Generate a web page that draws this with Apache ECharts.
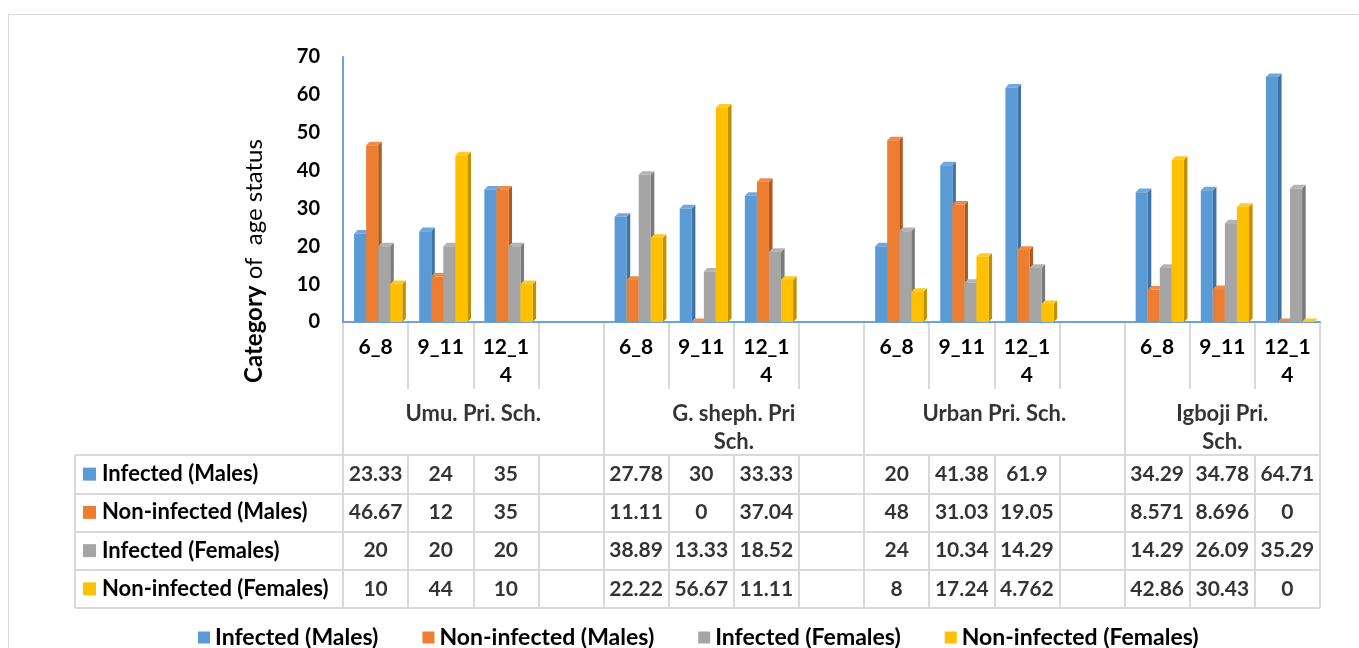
<!DOCTYPE html>
<html><head><meta charset="utf-8">
<script src="https://cdn.jsdelivr.net/npm/echarts@6/dist/echarts.min.js"></script>
<style>
html,body{margin:0;padding:0;background:#fff;overflow:hidden}
#frame{position:absolute;left:8px;top:14px;width:1400px;height:700px;border:1.5px solid #d9d9d9;box-sizing:border-box}
#chart{position:absolute;left:0;top:0;width:1359px;height:648px}
</style></head>
<body><div id="frame"></div><div id="chart"></div>
<script>
const schools = ['Umu. Pri. Sch.', 'G. sheph. Pri\nSch.', 'Urban Pri. Sch.', 'Igboji Pri.\nSch.'];
const ageGroups = ['6_8', '9_11', '12_14'];
const seriesNames = ['Infected (Males)', 'Non-infected (Males)', 'Infected (Females)', 'Non-infected (Females)'];
const infectedMales      = [23.33, 24, 35,   27.78, 30, 33.33,   20, 41.38, 61.9,    34.29, 34.78, 64.71];
const nonInfectedMales   = [46.67, 12, 35,   11.11, 0, 37.04,    48, 31.03, 19.05,   8.571, 8.696, 0];
const infectedFemales    = [20, 20, 20,      38.89, 13.33, 18.52, 24, 10.34, 14.29,  14.29, 26.09, 35.29];
const nonInfectedFemales = [10, 44, 10,      22.22, 56.67, 11.11, 8, 17.24, 4.762,   42.86, 30.43, 0];
const yMin = 0, yMax = 70, yInterval = 10;

const values = [infectedMales, nonInfectedMales, infectedFemales, nonInfectedFemales];
const front = ['#5b9bd5', '#ed7d31', '#a5a5a5', '#ffc000'];
const side  = ['#3f73a3', '#b05a1f', '#7a7a7a', '#bf9000'];
const topc  = ['#6fa8dc', '#f08b47', '#b4b4b4', '#ffc926'];
const FONT = 'Lato';

// build the category slots: ages per school, with an empty spacer between schools
const categories = [];
const slotOfValue = [];
const groupSpans = [];
schools.forEach((s, si) => {
  const start = categories.length;
  ageGroups.forEach(a => { slotOfValue.push(categories.length); categories.push(a); });
  if (si < schools.length - 1) categories.push('');
  groupSpans.push([start, categories.length]);
});
const groupSize = ageGroups.length + 1;

function bar3d(k) {
  return {
    type: 'custom', name: seriesNames[k], xAxisIndex: 0, yAxisIndex: 0,
    itemStyle: { color: front[k] },
    encode: { x: 0, y: 1 },
    data: values[k].map((v, i) => [slotOfValue[i], v]),
    renderItem(params, api) {
      const c = api.value(0), v = api.value(1);
      const p0 = api.coord([c, 0]), p1 = api.coord([c, v]);
      const band = api.size([1, 0])[0];
      const w = band * 0.185, d = band * 0.055;
      const x = p0[0] - 2 * w + band * 0.04 + k * w;
      const yb = p0[1], yt = p1[1];
      return { type: 'group', children: [
        { type: 'polygon', shape: { points: [[x + w, yt], [x + w + d, yt - d], [x + w + d, yb - d], [x + w, yb]] }, style: { fill: side[k] } },
        { type: 'polygon', shape: { points: [[x, yt], [x + d, yt - d], [x + w + d, yt - d], [x + w, yt]] }, style: { fill: topc[k] } },
        { type: 'rect', shape: { x: x, y: yt, width: w, height: yb - yt }, style: { fill: front[k] } }
      ]};
    }
  };
}

const gridLine = { show: true, interval: 0, lineStyle: { color: '#d9d9d9', width: 2 } };
const hidden = { axisLine: { show: false }, axisTick: { show: false }, axisLabel: { show: false } };
const L = 343, W = 977;

const cellData = [];
values.forEach((arr, k) => arr.forEach((v, i) => cellData.push([slotOfValue[i], k, v])));

const groupData = schools.map((s, si) => [(groupSpans[si][0] + groupSpans[si][1]) / 2, 1, s]);

const rich = { t: { fontSize: 22, fontWeight: 'bold', fontFamily: FONT, color: '#000', padding: [0, 0, 0, 6] } };
front.forEach((c, i) => { rich['q' + i] = { width: 13, height: 13, backgroundColor: c }; });

const option = {
  animation: false,
  textStyle: { fontFamily: FONT },
  grid: [
    { left: L, top: 57, width: W, height: 265 },          // plot
    { left: L, top: 322, width: W, height: 67 },          // age label row
    { left: L, top: 455, width: W, height: 153 },         // table values
    { left: 75, top: 455, width: 268, height: 153 },      // table header column
    { left: L, top: 389, width: W, height: 66 }           // school label row
  ],
  xAxis: [
    { gridIndex: 0, type: 'category', data: categories, axisLine: { show: true, lineStyle: { color: '#6fa3d8', width: 2 } },
      axisTick: { show: false }, axisLabel: { show: false } },
    { gridIndex: 1, type: 'category', data: categories, position: 'top', axisLine: { show: false }, axisTick: { show: false },
      axisLabel: { inside: true, margin: 11, interval: 0, fontSize: 21, fontWeight: 'bold', color: '#000', fontFamily: FONT,
        lineHeight: 28, width: 54, overflow: 'breakAll' },
      splitLine: gridLine },
    Object.assign({ gridIndex: 2, type: 'category', data: categories, splitLine: gridLine }, hidden),
    Object.assign({ gridIndex: 3, type: 'category', data: [''], splitLine: gridLine }, hidden),
    Object.assign({ gridIndex: 4, type: 'value', min: 0, max: categories.length, interval: groupSize, splitLine: gridLine }, hidden)
  ],
  yAxis: [
    { gridIndex: 0, type: 'value', min: yMin, max: yMax, interval: yInterval,
      axisLine: { show: true, lineStyle: { color: '#6fa3d8', width: 2 } }, axisTick: { show: false }, splitLine: { show: false },
      axisLabel: { margin: 23, fontSize: 20, fontWeight: 'bold', color: '#000', fontFamily: FONT } },
    { gridIndex: 1, type: 'value', show: false },
    Object.assign({ gridIndex: 2, type: 'category', data: seriesNames, inverse: true, splitLine: gridLine }, hidden),
    { gridIndex: 3, type: 'category', data: seriesNames, inverse: true, splitLine: gridLine,
      axisLine: { show: false }, axisTick: { show: false },
      axisLabel: { inside: true, margin: 8, formatter: (v, i) => '{q' + i + '|}{t|' + v + '}', rich: rich } },
    { gridIndex: 4, type: 'value', min: 0, max: 1, show: false }
  ],
  legend: {
    data: seriesNames, left: 193, top: 621, icon: 'rect', itemWidth: 12, itemHeight: 12, itemGap: 44,
    textStyle: { fontSize: 23, fontWeight: 'bold', color: '#000', fontFamily: FONT }
  },
  graphic: [{
    type: 'text', x: 254, y: 261, rotation: Math.PI / 2,
    style: { text: '{b|Category} of  age status', fontSize: 24, fontFamily: FONT, fill: '#000', align: 'center', verticalAlign: 'middle',
      rich: { b: { fontSize: 24, fontWeight: 'bold', fontFamily: FONT, fill: '#000' } } }
  }],
  series: [
    bar3d(0), bar3d(1), bar3d(2), bar3d(3),
    { type: 'scatter', xAxisIndex: 2, yAxisIndex: 2, data: cellData, symbolSize: 1, itemStyle: { color: 'rgba(0,0,0,0)' },
      silent: true, clip: false,
      label: { show: true, position: 'inside', formatter: p => String(p.value[2]), fontSize: 21, fontWeight: 'bold', color: '#000', fontFamily: FONT } },
    { type: 'scatter', xAxisIndex: 4, yAxisIndex: 4, data: groupData, symbolSize: 1, itemStyle: { color: 'rgba(0,0,0,0)' },
      silent: true, clip: false,
      label: { show: true, position: 'bottom', distance: 10, formatter: p => p.value[2], fontSize: 22, fontWeight: 'bold',
        color: '#000', fontFamily: FONT, lineHeight: 28, align: 'center' } }
  ]
};
const chart = echarts.init(document.getElementById('chart'));
chart.setOption(option);
</script>
</body></html>
